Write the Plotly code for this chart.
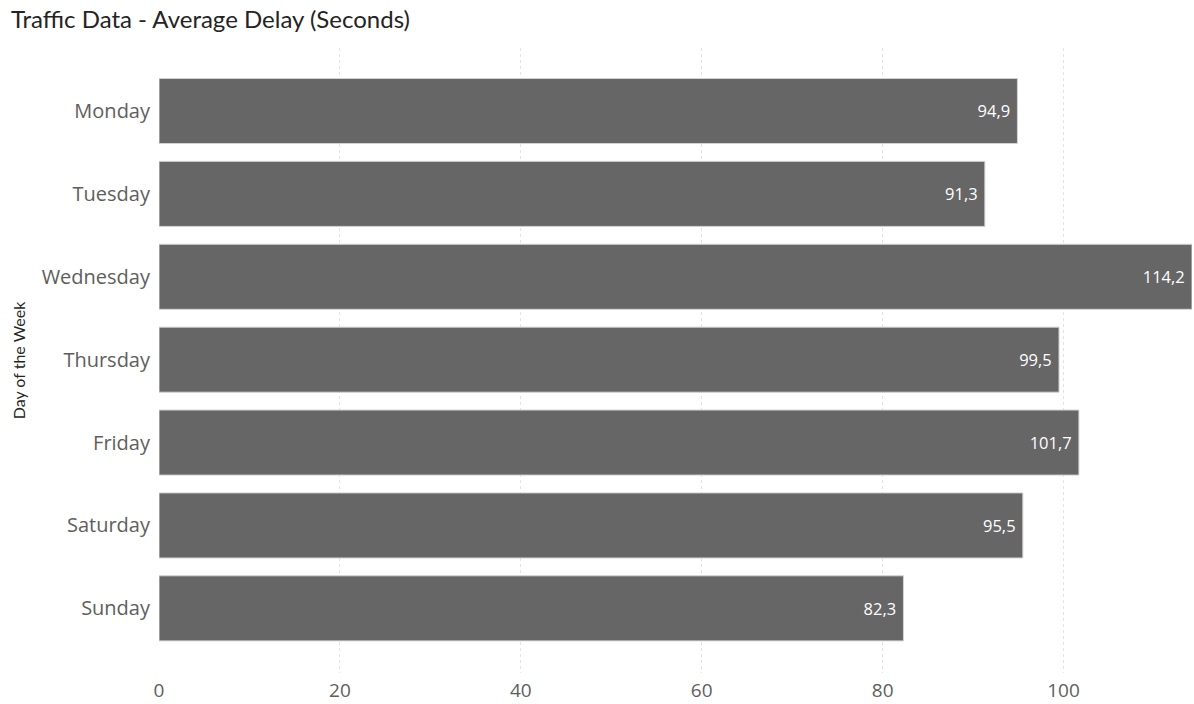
import plotly.graph_objects as go

days = ["Monday", "Tuesday", "Wednesday", "Thursday", "Friday", "Saturday", "Sunday"]
delay = [94.9, 91.3, 114.2, 99.5, 101.7, 95.5, 82.3]
x_ticks = [0, 20, 40, 60, 80, 100]

fig = go.Figure(go.Bar(
    x=delay,
    y=days,
    orientation="h",
    marker=dict(color="#666666", line=dict(color="#d4d4d4", width=1)),
    texttemplate="%{x:.1f}\u00a0",
    textposition="inside",
    insidetextanchor="end",
    textfont=dict(color="#ffffff", size=16.5, family="Open Sans"),
    width=0.785,
    hoverinfo="skip",
))

fig.update_layout(
    width=1194, height=704,
    margin=dict(l=159, r=2, t=48, b=31),
    paper_bgcolor="#ffffff", plot_bgcolor="#ffffff",
    separators=",.",
    showlegend=False,
    title=dict(
        text="Traffic Data - Average Delay (Seconds)",
        x=11 / 1194, xanchor="left", xref="container",
        y=0.972, yanchor="middle", yref="container",
        font=dict(family="Lato", size=24, color="#252423"),
    ),
    xaxis=dict(
        range=[0, 114.2],
        tickvals=x_ticks,
        showgrid=True, gridcolor="#e3e3e3", griddash="dot", gridwidth=1,
        zeroline=False, showline=False,
        tickfont=dict(family="Open Sans", size=19, color="#605e5c"),
        ticks="", ticklabelstandoff=4,
        fixedrange=True,
    ),
    yaxis=dict(
        categoryorder="array", categoryarray=days,
        range=[6.78, -0.76],
        showgrid=False, zeroline=False, showline=False,
        tickfont=dict(family="Open Sans", size=20, color="#605e5c"),
        ticks="", ticklabelstandoff=8,
        title=dict(text="Day of the Week", font=dict(family="Lato", size=16, color="#252423"), standoff=12),
        fixedrange=True,
    ),
)

fig.write_html("out.html")
